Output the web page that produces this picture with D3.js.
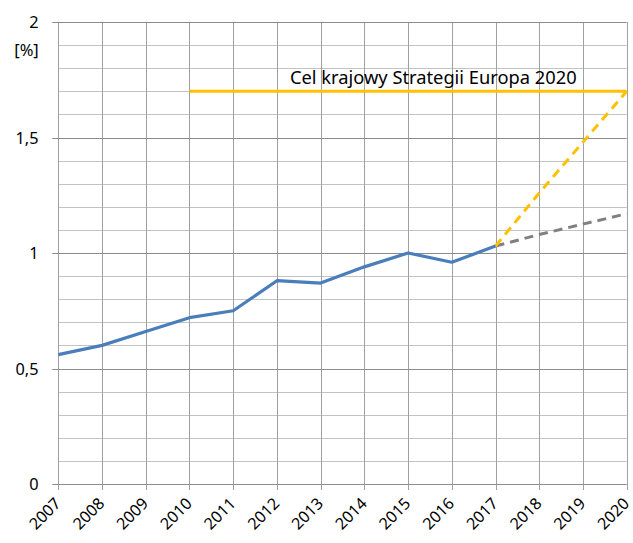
<!DOCTYPE html>
<html><head><meta charset="utf-8">
<script src="https://cdn.jsdelivr.net/npm/d3@7"></script>
<style>body{margin:0;background:#fff}svg{display:block}text{font-family:"Noto Sans",sans-serif;fill:#000}</style>
</head><body><svg id="c" width="633" height="543"></svg>
<script>
const years = [2007,2008,2009,2010,2011,2012,2013,2014,2015,2016,2017,2018,2019,2020];
const actualYears = [2007,2008,2009,2010,2011,2012,2013,2014,2015,2016,2017];
const actualValues = [0.56,0.60,0.66,0.72,0.75,0.88,0.87,0.94,1.00,0.96,1.03];
const trendYears = [2017,2018,2019,2020];
const trendValues = [1.03,1.08,1.125,1.17];
const pathYears = [2017,2018,2019,2020];
const pathValues = [1.03,1.26,1.48,1.70];
const targetYears = [2010,2020];
const targetValues = [1.7,1.7];
const targetLabel = "Cel krajowy Strategii Europa 2020";
const yTicks = [0,0.5,1,1.5,2];
const yTickLabels = ["0","0,5","1","1,5","2"];
const yUnit = "[%]";

const svg = d3.select("#c");
const x = d3.scaleLinear().domain([2007,2020]).range([58.3,626.7]);
const y = d3.scaleLinear().domain([0,2]).range([484,22]);

// minor horizontal grid
const minor = d3.range(0,21).map(i=>i/10).filter(v=>Math.round(v*10)%5!==0);
svg.append("g").selectAll("line").data(minor).join("line")
  .attr("x1",x(2007)).attr("x2",x(2020))
  .attr("y1",d=>Math.round(y(d))+0.5).attr("y2",d=>Math.round(y(d))+0.5)
  .attr("stroke","#c3c3c3").attr("stroke-width",1);
// vertical grid
svg.append("g").selectAll("line").data(years).join("line")
  .attr("x1",d=>Math.round(x(d))+0.5).attr("x2",d=>Math.round(x(d))+0.5)
  .attr("y1",y(2)).attr("y2",y(0)+6)
  .attr("stroke","#a0a0a0").attr("stroke-width",1);
// major horizontal grid with left ticks
svg.append("g").selectAll("line").data(yTicks).join("line")
  .attr("x1",x(2007)-6).attr("x2",x(2020))
  .attr("y1",d=>Math.round(y(d))+0.5).attr("y2",d=>Math.round(y(d))+0.5)
  .attr("stroke","#8c8c8c").attr("stroke-width",1);

// y labels
svg.append("g").selectAll("text").data(yTicks).join("text")
  .attr("x",38.5).attr("y",d=>y(d)+6).attr("text-anchor","end")
  .attr("font-size",16.3).text((d,i)=>yTickLabels[i]);
svg.append("text").attr("x",26.5).attr("y",56).attr("text-anchor","middle")
  .attr("font-size",16.5).text(yUnit);

// x labels
svg.append("g").selectAll("text").data(years).join("text")
  .attr("transform",d=>`translate(${x(d)+3.5},${y(0)+20.5}) rotate(-45)`)
  .attr("text-anchor","end").attr("font-size",16).text(d=>d);

const line = d3.line().x(d=>x(d[0])).y(d=>y(d[1]));
// target
svg.append("path").datum(d3.zip(targetYears,targetValues)).attr("d",line)
  .attr("fill","none").attr("stroke","#FFC000").attr("stroke-width",3);
svg.append("text").attr("x",290).attr("y",84).attr("text-anchor","start")
  .attr("font-size",18.3).text(targetLabel);
// trend dashed
svg.append("path").datum(d3.zip(trendYears,trendValues)).attr("d",line)
  .attr("fill","none").attr("stroke","#808080").attr("stroke-width",3)
  .attr("stroke-dasharray","9,6");
svg.append("path").datum(d3.zip(pathYears,pathValues)).attr("d",line)
  .attr("fill","none").attr("stroke","#FFC000").attr("stroke-width",3)
  .attr("stroke-dasharray","9,6");
// actual
svg.append("path").datum(d3.zip(actualYears,actualValues)).attr("d",line)
  .attr("fill","none").attr("stroke","#4A7EBB").attr("stroke-width",3.2)
  .attr("stroke-linejoin","round");
</script></body></html>
